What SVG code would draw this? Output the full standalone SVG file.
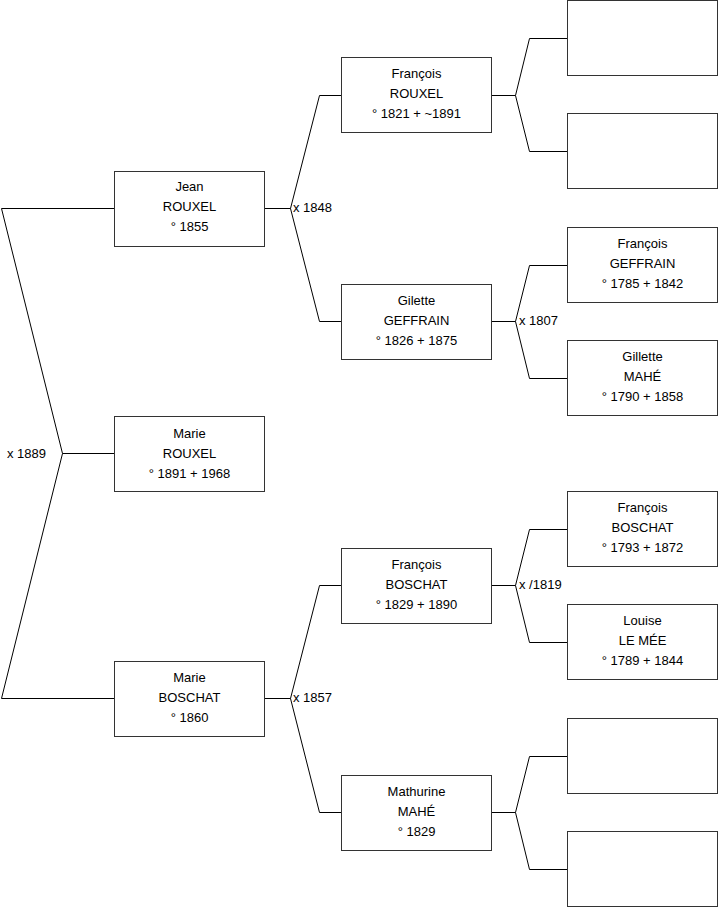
<svg xmlns="http://www.w3.org/2000/svg" width="719" height="908" viewBox="0 0 719 908">
<style>
.box{fill:#fff;stroke:#333;stroke-width:1}
.t{font-family:"Liberation Sans",Arial,sans-serif;font-size:13px;fill:#000;text-anchor:middle}
.l{font-family:"Liberation Sans",Arial,sans-serif;font-size:13px;fill:#000}
.c{fill:none;stroke:#000;stroke-width:1}
</style>
<rect width="719" height="908" fill="#fff"/>
<g id="connectors">
<path class="c" d="M114,453.5H62.5M62.5,453.5L1.5,208.5M62.5,453.5L1.5,698.5M1.5,208.5H114M1.5,698.5H114"/>
<path class="c" d="M265,208.5H290.5M290.5,208.5L319.5,95.5M290.5,208.5L319.5,321.5M319.5,95.5H341M319.5,321.5H341"/>
<path class="c" d="M265,698.5H290.5M290.5,698.5L319.5,585.5M290.5,698.5L319.5,812.5M319.5,585.5H341M319.5,812.5H341"/>
<path class="c" d="M492,95.5H515.5M515.5,95.5L529.5,38.5M515.5,95.5L529.5,151.5M529.5,38.5H567M529.5,151.5H567"/>
<path class="c" d="M492,321.5H515.5M515.5,321.5L529.5,265.5M515.5,321.5L529.5,378.5M529.5,265.5H567M529.5,378.5H567"/>
<path class="c" d="M492,585.5H515.5M515.5,585.5L529.5,529.5M515.5,585.5L529.5,642.5M529.5,529.5H567M529.5,642.5H567"/>
<path class="c" d="M492,812.5H515.5M515.5,812.5L529.5,756.5M515.5,812.5L529.5,869.5M529.5,756.5H567M529.5,869.5H567"/>
<text class="l" x="7" y="457.5">x 1889</text>
<text class="l" x="293" y="212">x 1848</text>
<text class="l" x="293" y="702">x 1857</text>
<text class="l" x="519" y="325">x 1807</text>
<text class="l" x="519" y="589">x /1819</text>
</g>
<g id="marie-rouxel"><rect class="box" x="114.5" y="416.5" width="150" height="75"/><text class="t" x="189.5" y="437.5">Marie</text><text class="t" x="189.5" y="457.5">ROUXEL</text><text class="t" x="189.5" y="477.5">° 1891 + 1968</text></g>
<g id="jean-rouxel"><rect class="box" x="114.5" y="171.5" width="150" height="75"/><text class="t" x="189.5" y="191">Jean</text><text class="t" x="189.5" y="211">ROUXEL</text><text class="t" x="189.5" y="231">° 1855</text></g>
<g id="marie-boschat"><rect class="box" x="114.5" y="661.5" width="150" height="75"/><text class="t" x="189.5" y="681.5">Marie</text><text class="t" x="189.5" y="701.5">BOSCHAT</text><text class="t" x="189.5" y="721.5">° 1860</text></g>
<g id="francois-rouxel"><rect class="box" x="341.5" y="57.5" width="150" height="75"/><text class="t" x="416.5" y="77.5">François</text><text class="t" x="416.5" y="97.5">ROUXEL</text><text class="t" x="416.5" y="117.5">° 1821 + ~1891</text></g>
<g id="gilette-geffrain"><rect class="box" x="341.5" y="284.5" width="150" height="75"/><text class="t" x="416.5" y="304.5">Gilette</text><text class="t" x="416.5" y="324.5">GEFFRAIN</text><text class="t" x="416.5" y="344.5">° 1826 + 1875</text></g>
<g id="francois-boschat-1829"><rect class="box" x="341.5" y="548.5" width="150" height="75"/><text class="t" x="416.5" y="568.5">François</text><text class="t" x="416.5" y="588.5">BOSCHAT</text><text class="t" x="416.5" y="608.5">° 1829 + 1890</text></g>
<g id="mathurine-mahe"><rect class="box" x="341.5" y="775.5" width="150" height="75"/><text class="t" x="416.5" y="795.5">Mathurine</text><text class="t" x="416.5" y="815.5">MAHÉ</text><text class="t" x="416.5" y="835.5">° 1829</text></g>
<g id="unknown-1"><rect class="box" x="567.5" y="0.5" width="150" height="75"/></g>
<g id="unknown-2"><rect class="box" x="567.5" y="113.5" width="150" height="75"/></g>
<g id="francois-geffrain"><rect class="box" x="567.5" y="227.5" width="150" height="75"/><text class="t" x="642.5" y="247.5">François</text><text class="t" x="642.5" y="267.5">GEFFRAIN</text><text class="t" x="642.5" y="287.5">° 1785 + 1842</text></g>
<g id="gillette-mahe"><rect class="box" x="567.5" y="340.5" width="150" height="75"/><text class="t" x="642.5" y="360.5">Gillette</text><text class="t" x="642.5" y="380.5">MAHÉ</text><text class="t" x="642.5" y="400.5">° 1790 + 1858</text></g>
<g id="francois-boschat-1793"><rect class="box" x="567.5" y="491.5" width="150" height="75"/><text class="t" x="642.5" y="511.5">François</text><text class="t" x="642.5" y="531.5">BOSCHAT</text><text class="t" x="642.5" y="551.5">° 1793 + 1872</text></g>
<g id="louise-le-mee"><rect class="box" x="567.5" y="604.5" width="150" height="75"/><text class="t" x="642.5" y="624.5">Louise</text><text class="t" x="642.5" y="644.5">LE MÉE</text><text class="t" x="642.5" y="664.5">° 1789 + 1844</text></g>
<g id="unknown-3"><rect class="box" x="567.5" y="718.5" width="150" height="75"/></g>
<g id="unknown-4"><rect class="box" x="567.5" y="831.5" width="150" height="75"/></g>
</svg>
